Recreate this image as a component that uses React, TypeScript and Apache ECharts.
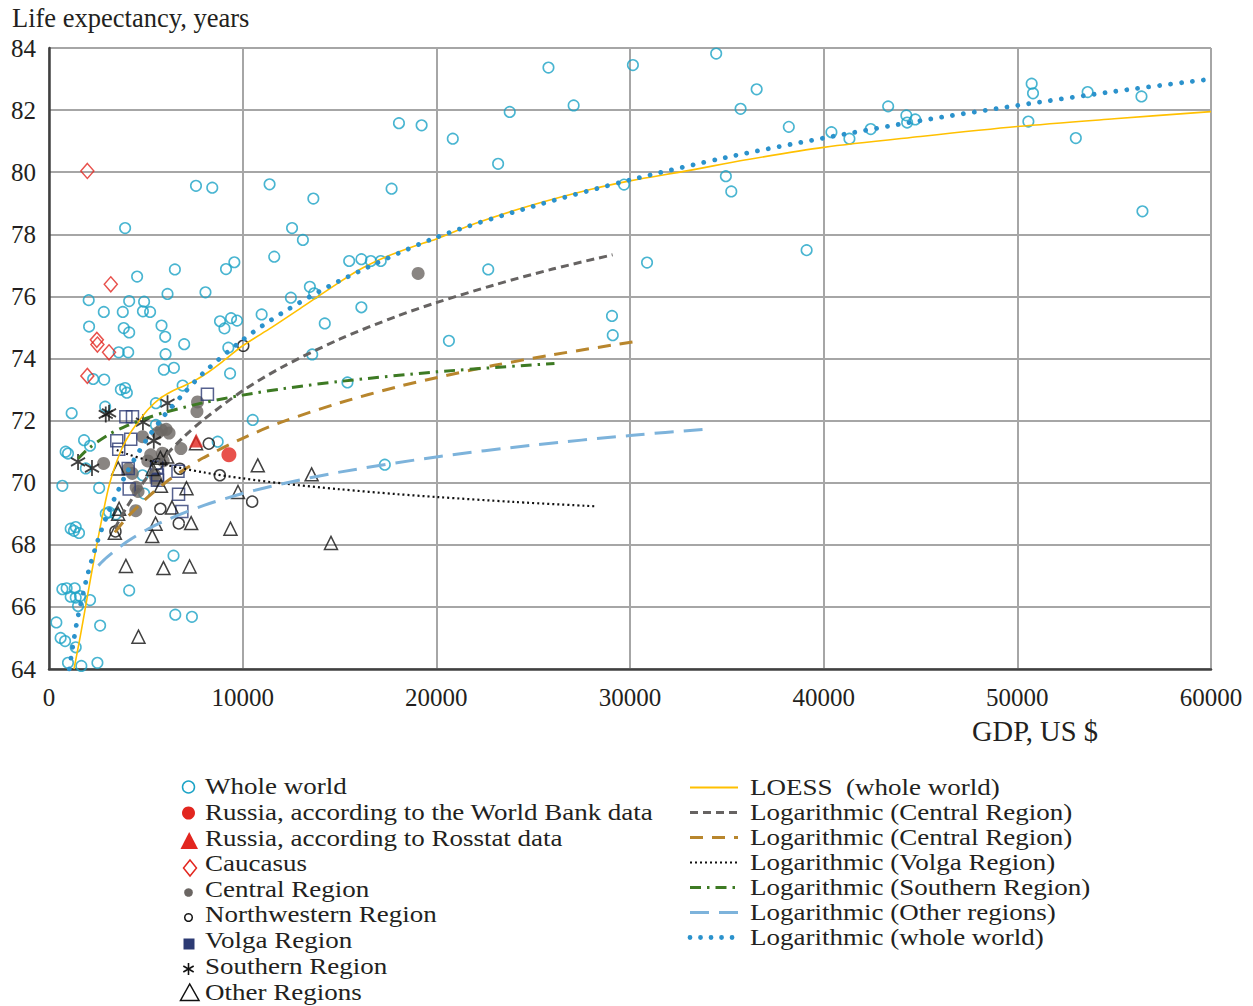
import React, { useEffect, useRef } from "react";
import * as echarts from "echarts";

// ---------- Data (GDP US$, life expectancy years) ----------
const wholeWorld: [number, number][] = [
  [34450, 83.82], [25790, 83.37], [30150, 83.45], [50740, 82.85], [50810, 82.54], [53630, 82.58],
  [56410, 82.44], [36540, 82.67], [27090, 82.15], [43330, 82.12], [35710, 82.04], [23790, 81.94],
  [18070, 81.58], [19240, 81.51], [38200, 81.46], [44270, 81.83], [44310, 81.6], [44730, 81.7],
  [50570, 81.63], [20850, 81.08], [40400, 81.29], [41330, 81.08], [42430, 81.39], [53020, 81.1],
  [23190, 80.27], [34950, 79.87], [35230, 79.38], [29690, 79.6], [11390, 79.61], [13650, 79.15],
  [17690, 79.47], [7590, 79.56], [8430, 79.5], [56460, 78.74], [12550, 78.2], [13110, 77.82],
  [3930, 78.2], [39120, 77.49], [11630, 77.28], [9570, 77.1], [9140, 76.88], [6500, 76.87],
  [4550, 76.64], [15500, 77.14], [16130, 77.2], [16620, 77.14], [17130, 77.14], [22680, 76.87],
  [30880, 77.09], [13470, 76.31], [13690, 76.1], [12490, 75.96], [8080, 76.13], [6120, 76.08],
  [2050, 75.88], [4140, 75.85], [4910, 75.83], [4850, 75.52], [5220, 75.5], [2830, 75.5],
  [3810, 75.5], [10980, 75.42], [14240, 75.13], [16130, 75.65], [8830, 75.2], [9060, 74.97],
  [9400, 75.3], [9710, 75.22], [2070, 75.03], [3860, 74.98], [4140, 74.84], [5810, 75.06],
  [6000, 74.7], [6980, 74.46], [29070, 75.37], [29110, 74.75], [20650, 74.57], [3600, 74.2],
  [4090, 74.2], [6020, 74.14], [9260, 74.35], [13590, 74.13], [5930, 73.64], [6450, 73.7],
  [9350, 73.52], [2280, 73.34], [2850, 73.32], [15410, 73.23], [3710, 73.0], [3930, 73.05],
  [4020, 72.9], [6900, 73.13], [1170, 72.24], [2900, 72.45], [5520, 72.56], [10520, 72.02],
  [5520, 71.86], [1810, 71.37], [2120, 71.19], [860, 71.0], [980, 70.94], [1900, 70.46],
  [690, 69.9], [2590, 69.83], [4830, 70.24], [4910, 69.65], [2930, 69.0], [3100, 69.05],
  [3450, 68.98], [1120, 68.52], [1290, 68.45], [1550, 68.38], [1380, 68.57], [8710, 71.32],
  [17340, 70.58], [6430, 67.65], [4140, 66.53], [690, 66.57], [910, 66.6], [1330, 66.6],
  [1120, 66.33], [1380, 66.3], [1600, 66.35], [2120, 66.22], [1500, 66.03], [380, 65.5],
  [600, 65.0], [830, 64.9], [1380, 64.7], [2640, 65.4], [6520, 65.75], [7380, 65.68],
  [980, 64.2], [1670, 64.1], [2500, 64.2],
];
const russiaWorldBank: [number, number][] = [[9290, 70.9]];
const russiaRosstat: [number, number][] = [[7600, 71.36]];
const caucasus: [number, number][] = [
  [1980, 80.04], [3190, 76.39], [2470, 74.6], [2500, 74.45], [3100, 74.2], [1980, 73.44],
];
const centralRegion: [number, number][] = [
  [2820, 70.62], [4100, 70.45], [4300, 70.3], [4500, 69.85], [4600, 69.72], [4480, 69.1],
  [4830, 71.48], [5100, 70.7], [5250, 70.9], [5450, 70.25], [5520, 70.08], [5600, 71.6],
  [5800, 71.7], [5850, 70.95], [5900, 70.7], [6050, 71.72], [6200, 71.6], [6810, 71.1],
  [7640, 72.29], [7670, 72.6], [19060, 76.74],
];
const northwesternRegion: [number, number][] = [
  [10030, 74.41], [8250, 71.26], [8820, 70.24], [6750, 70.45], [5750, 69.16], [6700, 68.69],
  [10490, 69.39], [3430, 68.43], [5600, 70.6],
];
const volgaRegion: [number, number][] = [
  [8180, 72.85], [3970, 72.12], [4310, 72.12], [4220, 71.4], [3500, 71.35], [3600, 71.08],
  [4090, 70.46], [5560, 70.5], [5600, 70.25], [5600, 70.08], [6660, 70.37], [4140, 69.8],
  [6690, 69.63], [6860, 69.07],
];
const southernRegion: [number, number][] = [
  [6120, 72.56], [2930, 72.2], [3100, 72.25], [4850, 71.95], [5410, 71.35], [1500, 70.67], [2220, 70.47],
];
const otherRegions: [number, number][] = [
  [7590, 71.27], [6100, 70.84], [5750, 70.8], [3570, 70.46], [5350, 70.44], [5780, 69.9], [7100, 69.82],
  [6350, 69.2], [3620, 69.16], [3570, 69.0], [5500, 68.68], [7340, 68.7], [3400, 68.39],
  [5330, 68.28], [9370, 68.52], [10780, 70.56], [9760, 69.7], [3970, 67.32], [5910, 67.25],
  [7260, 67.3], [4620, 65.04], [13560, 70.27], [14560, 68.06],
];

// Trend lines
const loessWorld: [number, number][] = [
  [1290, 64.0], [1600, 65.0], [1900, 66.05], [2200, 67.1], [2500, 68.1], [2800, 69.05],
  [3100, 69.9], [3450, 70.6], [3800, 71.15], [4200, 71.6], [4600, 71.95], [5100, 72.35],
  [5700, 72.7], [6300, 72.93], [6900, 73.1], [7500, 73.28], [8200, 73.55], [9000, 73.92],
  [10000, 74.41], [11500, 75.0], [13000, 75.62], [14500, 76.25], [16000, 76.85], [17500, 77.3],
  [19000, 77.65], [20000, 77.85], [22000, 78.35], [25000, 78.95], [28000, 79.45], [30000, 79.72],
  [33000, 80.05], [36000, 80.4], [40000, 80.8], [45000, 81.15], [50000, 81.47], [55000, 81.72],
  [60000, 81.95],
];
const logCentral: [number, number][] = [
  [3400, 68.53], [4000, 69.2], [5000, 70.12], [6000, 70.86], [7000, 71.5], [8000, 72.04],
  [10000, 72.96], [12000, 73.71], [15000, 74.62], [18000, 75.37], [20000, 75.8], [23000, 76.37],
  [26000, 76.88], [29100, 77.34],
];
const logCentral2: [number, number][] = [
  [3400, 68.4], [4000, 68.86], [5000, 69.48], [6000, 70.0], [7000, 70.43], [8000, 70.81],
  [10000, 71.43], [12000, 71.95], [15000, 72.57], [18000, 73.09], [20000, 73.38], [23000, 73.78],
  [26000, 74.12], [30500, 74.57],
];
const logVolga: [number, number][] = [
  [3500, 71.05], [4000, 70.93], [5000, 70.74], [6000, 70.58], [8000, 70.33], [10000, 70.14],
  [12000, 69.98], [15000, 69.79], [18000, 69.63], [20000, 69.54], [24000, 69.38], [28200, 69.24],
];
const logSouthern: [number, number][] = [
  [1500, 70.77], [2000, 71.08], [3000, 71.52], [4000, 71.83], [5000, 72.07], [6000, 72.27],
  [8000, 72.58], [10000, 72.82], [12000, 73.02], [15000, 73.26], [20000, 73.57], [26100, 73.84],
];
const logOther: [number, number][] = [
  [2550, 67.33], [3000, 67.6], [4000, 68.09], [5000, 68.47], [6000, 68.78], [8000, 69.27],
  [10000, 69.65], [12000, 69.96], [15000, 70.34], [20000, 70.83], [25000, 71.21], [30000, 71.52],
  [34200, 71.74],
];
const logWorld: [number, number][] = [
  [1050, 64.0], [1300, 65.0], [1500, 65.7], [2000, 67.05], [2500, 68.1], [3000, 68.95],
  [4000, 70.3], [5000, 71.35], [6000, 72.2], [7000, 72.9], [8000, 73.55], [10000, 74.6],
  [12000, 75.45], [15000, 76.5], [20000, 77.9], [25000, 78.9], [30000, 79.75], [35000, 80.48],
  [40000, 81.1], [45000, 81.66], [50000, 82.15], [55000, 82.6], [60000, 83.0],
];

const scatterLegend = [
  "Whole world",
  "Russia, according to the World Bank data",
  "Russia, according to Rosstat data",
  "Caucasus",
  "Central Region",
  "Northwestern Region",
  "Volga Region",
  "Southern Region",
  "Other Regions",
];
const lineLegend = [
  "LOESS  (whole world)",
  "Logarithmic (Central Region)",
  "Logarithmic (Central Region)",
  "Logarithmic (Volga Region)",
  "Logarithmic (Southern Region)",
  "Logarithmic (Other regions)",
  "Logarithmic (whole world)",
];

// ---------- Styles ----------
const SERIF = '"Liberation Serif", "Times New Roman", serif';
const TXT = "#231f20";
const CYAN = "#1ba3c6";
const RED = "#e2261f";
const GREY = "#6b6663";
const NAVY = "#2c3a73";
const YELLOW = "#ffc000";
const BROWN = "#b8862d";
const GREEN = "#3d7a23";
const LBLUE = "#7db3db";
const DBLUE = "#2b92cc";
const STAR = "path://M10 0 L10 20 M1.34 5 L18.66 15 M1.34 15 L18.66 5";

const lineDefs = [
  { name: lineLegend[0], data: loessWorld, color: YELLOW, width: 1.6, type: "solid" as any, cap: "butt" },
  { name: lineLegend[1], data: logCentral, color: "#666362", width: 3, type: [8, 5], cap: "butt" },
  { name: lineLegend[2], data: logCentral2, color: BROWN, width: 3, type: [13, 9], cap: "butt" },
  { name: lineLegend[3], data: logVolga, color: "#111", width: 2.2, type: [2, 3], cap: "butt" },
  { name: lineLegend[4], data: logSouthern, color: GREEN, width: 3, type: [11, 6, 2.5, 6], cap: "butt" },
  { name: lineLegend[5], data: logOther, color: LBLUE, width: 3, type: [19, 10], cap: "butt" },
  { name: lineLegend[6], data: logWorld, color: DBLUE, width: 4.8, type: [0.01, 11], cap: "round" },
];

function buildOption() {
  const open = (c: string, w = 1.5) => ({ color: "rgba(0,0,0,0)", borderColor: c, borderWidth: w });
  const series: any[] = [
    { name: scatterLegend[0], type: "scatter", data: wholeWorld, symbol: "circle", symbolSize: 10.5, itemStyle: open(CYAN, 1.6), z: 2 },
    { name: scatterLegend[3], type: "scatter", data: caucasus, symbol: "diamond", symbolSize: [13, 15], itemStyle: open(RED, 1.5), z: 2 },
    { name: scatterLegend[4], type: "scatter", data: centralRegion, symbol: "circle", symbolSize: 13, itemStyle: { color: GREY }, z: 2 },
    { name: scatterLegend[5], type: "scatter", data: northwesternRegion, symbol: "circle", symbolSize: 11, itemStyle: open("#111", 1.5), z: 2 },
    { name: scatterLegend[6], type: "scatter", data: volgaRegion, symbol: "rect", symbolSize: 12, itemStyle: open(NAVY, 1.5), z: 2 },
    { name: scatterLegend[7], type: "scatter", data: southernRegion, symbol: STAR, symbolSize: [14, 16], itemStyle: open("#111", 1.9), z: 2 },
    { name: scatterLegend[8], type: "scatter", data: otherRegions, symbol: "triangle", symbolSize: 13, itemStyle: open("#111", 1.5), z: 2 },
  ];
  lineDefs.forEach((d) => {
    series.push({
      name: d.name,
      type: "line",
      data: d.data,
      showSymbol: false,
      symbol: "none",
      smooth: 0.3,
      lineStyle: { color: d.color, width: d.width, type: d.type, cap: d.cap },
      z: 3,
    });
  });
  series.push(
    { name: scatterLegend[1], type: "scatter", data: russiaWorldBank, symbol: "circle", symbolSize: 15, itemStyle: { color: RED }, z: 5 },
    { name: scatterLegend[2], type: "scatter", data: russiaRosstat, symbol: "triangle", symbolSize: 14, itemStyle: { color: RED }, z: 5 },
  );

  // ----- legend drawn as graphic -----
  const g: any[] = [];
  const LEG_FONT = `22.5px ${SERIF}`;
  const text = (t: string, x: number, y: number, f: string, sx = 1) => ({
    type: "text", x, y, scaleX: sx, scaleY: 1,
    style: { text: t, font: f, fill: TXT, verticalAlign: "middle", textVerticalAlign: "middle", align: "left" },
  });
  const leftRows = [786, 812, 838, 863, 889, 914, 940, 966, 992];
  scatterLegend.forEach((t, i) => g.push(text(t, 205, leftRows[i], LEG_FONT, 1.2)));
  const mx = 188.5;
  g.push({ type: "circle", shape: { cx: mx, cy: 787, r: 6 }, style: { fill: "none", stroke: CYAN, lineWidth: 1.5 } });
  g.push({ type: "circle", shape: { cx: mx, cy: 813, r: 6.5 }, style: { fill: RED } });
  g.push({ type: "polygon", shape: { points: [[180.5, 849], [198, 849], [189.2, 832]] }, style: { fill: RED } });
  g.push({ type: "polygon", shape: { points: [[190, 860], [196.5, 868], [190, 876], [183.5, 868]] }, style: { fill: "none", stroke: RED, lineWidth: 1.5 } });
  g.push({ type: "circle", shape: { cx: mx, cy: 892.5, r: 4.3 }, style: { fill: GREY } });
  g.push({ type: "circle", shape: { cx: mx, cy: 917.5, r: 3.8 }, style: { fill: "none", stroke: "#111", lineWidth: 1.5 } });
  g.push({ type: "rect", shape: { x: 183.5, y: 938.5, width: 11, height: 11 }, style: { fill: NAVY } });
  [[0, -6, 0, 6], [-5.2, -3, 5.2, 3], [-5.2, 3, 5.2, -3]].forEach((l) =>
    g.push({ type: "line", shape: { x1: mx + l[0], y1: 969 + l[1], x2: mx + l[2], y2: 969 + l[3] }, style: { stroke: "#111", lineWidth: 1.6 } })
  );
  g.push({ type: "polygon", shape: { points: [[180.5, 1000.5], [199, 1000.5], [189.7, 984]] }, style: { fill: "none", stroke: "#111", lineWidth: 1.5 } });

  const rightRows = [787, 812, 837, 862, 887, 912, 937];
  lineLegend.forEach((t, i) => {
    g.push(text(t, 750, rightRows[i], LEG_FONT, 1.2));
    const d = lineDefs[i];
    g.push({
      type: "line",
      shape: { x1: 690, y1: rightRows[i] + 0.5, x2: 738, y2: rightRows[i] + 0.5 },
      style: {
        stroke: d.color,
        lineWidth: i === 0 ? 2 : d.width,
        lineDash: Array.isArray(d.type) ? (i === 6 ? [0.01, 10.5] : d.type) : null,
        lineCap: d.cap,
      },
    });
  });

  g.push(text("Life expectancy, years", 12, 18, `26.5px ${SERIF}`));
  g.push(text("GDP, US $", 972, 731, `28.5px ${SERIF}`));

  return {
    animation: false,
    backgroundColor: "#ffffff",
    grid: { left: 49, top: 48, right: 42, bottom: 337, containLabel: false },
    xAxis: {
      type: "value", min: 0, max: 60000, interval: 10000,
      axisLine: { show: true, onZero: false, lineStyle: { color: "#404040", width: 2.5 } },
      axisTick: { show: false },
      splitLine: { show: true, lineStyle: { color: "#a6a6a6", width: 2 } },
      axisLabel: { fontFamily: SERIF, fontSize: 25, color: TXT, margin: 16, formatter: (v: number) => String(v) },
    },
    yAxis: {
      type: "value", min: 64, max: 84, interval: 2,
      axisLine: { show: true, onZero: false, lineStyle: { color: "#404040", width: 2.5 } },
      axisTick: { show: false },
      splitLine: { show: true, lineStyle: { color: "#a6a6a6", width: 2 } },
      axisLabel: { fontFamily: SERIF, fontSize: 25, color: TXT, margin: 13, formatter: (v: number) => String(v) },
    },
    series,
    graphic: g,
  };
}

export default function App() {
  const ref = useRef<HTMLDivElement>(null);
  useEffect(() => {
    document.body.style.margin = "0";
    const chart = echarts.init(ref.current!, null, { renderer: "svg" });
    chart.setOption(buildOption() as any);
    return () => chart.dispose();
  }, []);
  return <div ref={ref} style={{ width: 1253, height: 1006 }} />;
}
